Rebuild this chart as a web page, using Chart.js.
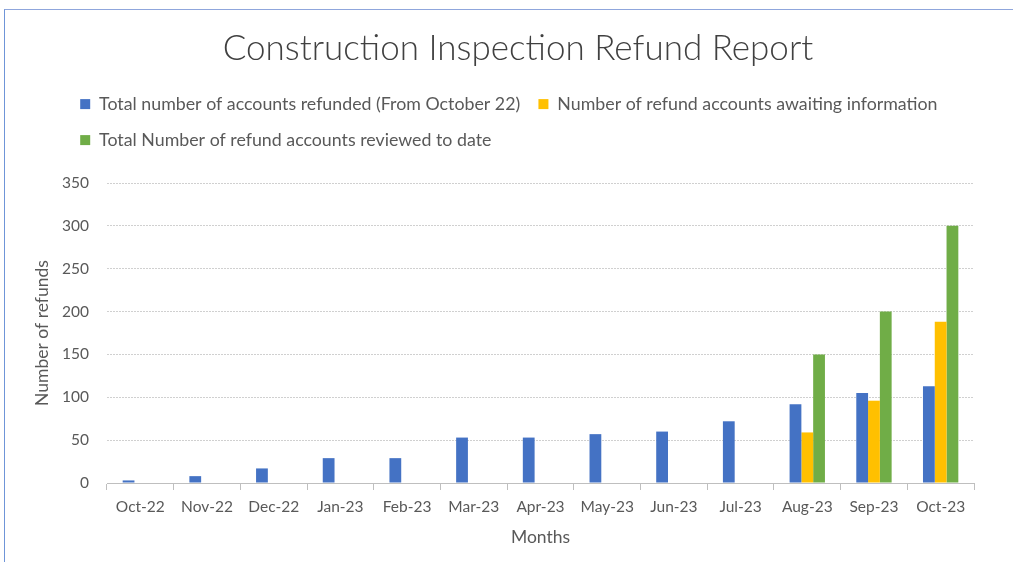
<!DOCTYPE html>
<html><head><meta charset="utf-8">
<script src="https://cdn.jsdelivr.net/npm/chart.js@4"></script>
<style>
html,body{margin:0;padding:0;background:#fff;overflow:hidden;}
#frame{position:absolute;left:4px;top:9px;width:1100px;height:700px;border-top:1px solid #8fa6dc;border-left:1px solid #6f95d8;}
canvas{position:absolute;left:0;top:0;}
</style></head><body>
<div id="frame"></div>
<canvas id="c" width="1013" height="562"></canvas>
<script>
const categories = ['Oct-22','Nov-22','Dec-22','Jan-23','Feb-23','Mar-23','Apr-23','May-23','Jun-23','Jul-23','Aug-23','Sep-23','Oct-23'];
const refunded = [3, 8, 17, 29, 29, 53, 53, 57, 60, 72, 92, 105, 113];
const awaiting = [null, null, null, null, null, null, null, null, null, null, 59, 96, 188];
const reviewed = [null, null, null, null, null, null, null, null, null, null, 150, 200, 300];
const seriesNames = ['Total number of accounts refunded (From October 22)', 'Number of refund accounts awaiting information', 'Total Number of refund accounts reviewed to date'];
const yMin = 0, yMax = 350, yStep = 50;

const FONT = 'Lato, "Open Sans", sans-serif';
const TXT = '#595959';

const legendSpacer = {
  id: 'legendSpacer',
  afterInit(chart) {
    const lg = chart.legend;
    if (lg && !lg._patched) {
      const orig = lg.fit.bind(lg);
      lg.fit = function () { orig(); this.height += 24; };
      lg._patched = true;
    }
  }
};

new Chart(document.getElementById('c'), {
  type: 'bar',
  data: {
    labels: categories,
    datasets: [
      { label: seriesNames[0], data: refunded, backgroundColor: '#4472C4' },
      { label: seriesNames[1], data: awaiting, backgroundColor: '#FFC000' },
      { label: seriesNames[2], data: reviewed, backgroundColor: '#70AD47' }
    ]
  },
  options: {
    responsive: false,
    animation: false,
    devicePixelRatio: 1,
    layout: { padding: { left: 62, right: 39, top: 0, bottom: 0 } },
    datasets: { bar: { barPercentage: 1, categoryPercentage: 0.53 } },
    plugins: {
      title: {
        display: true,
        text: 'Construction Inspection Refund Report',
        color: '#404040',
        font: { family: FONT, size: 35, weight: '300' },
        padding: { top: 28, bottom: 7 }
      },
      legend: {
        display: true,
        position: 'top',
        align: 'start',
        labels: {
          color: TXT,
          font: { family: FONT, size: 17.8 },
          boxWidth: 10,
          boxHeight: 10,
          padding: 18.2
        }
      },
      tooltip: { enabled: false }
    },
    scales: {
      x: {
        grid: { offset: true, drawOnChartArea: false, drawTicks: true, tickLength: 7, color: '#bfbfbf' },
        border: { display: true, color: '#bfbfbf', dash: [2, 1] },
        ticks: { color: TXT, font: { family: FONT, size: 15.5 }, padding: 8, maxRotation: 0, autoSkip: false },
        title: { display: true, text: 'Months', color: TXT, font: { family: FONT, size: 17.5 }, padding: { top: 4, bottom: 14.5 } },
        afterFit(scale) { scale.height = 79; }
      },
      y: {
        min: yMin, max: yMax,
        ticks: { stepSize: yStep, color: TXT, font: { family: FONT, size: 15.5 }, padding: 18 },
        grid: { color: '#d0d0d0', drawTicks: false },
        border: { display: false, dash: [2, 1] },
        title: { display: true, text: 'Number of refunds', color: TXT, font: { family: FONT, size: 17.5 }, padding: { top: -30.5, bottom: 0 } },
        afterFit(scale) { scale.width = 45; }
      }
    }
  },
  plugins: [legendSpacer]
});
</script>
</body></html>
